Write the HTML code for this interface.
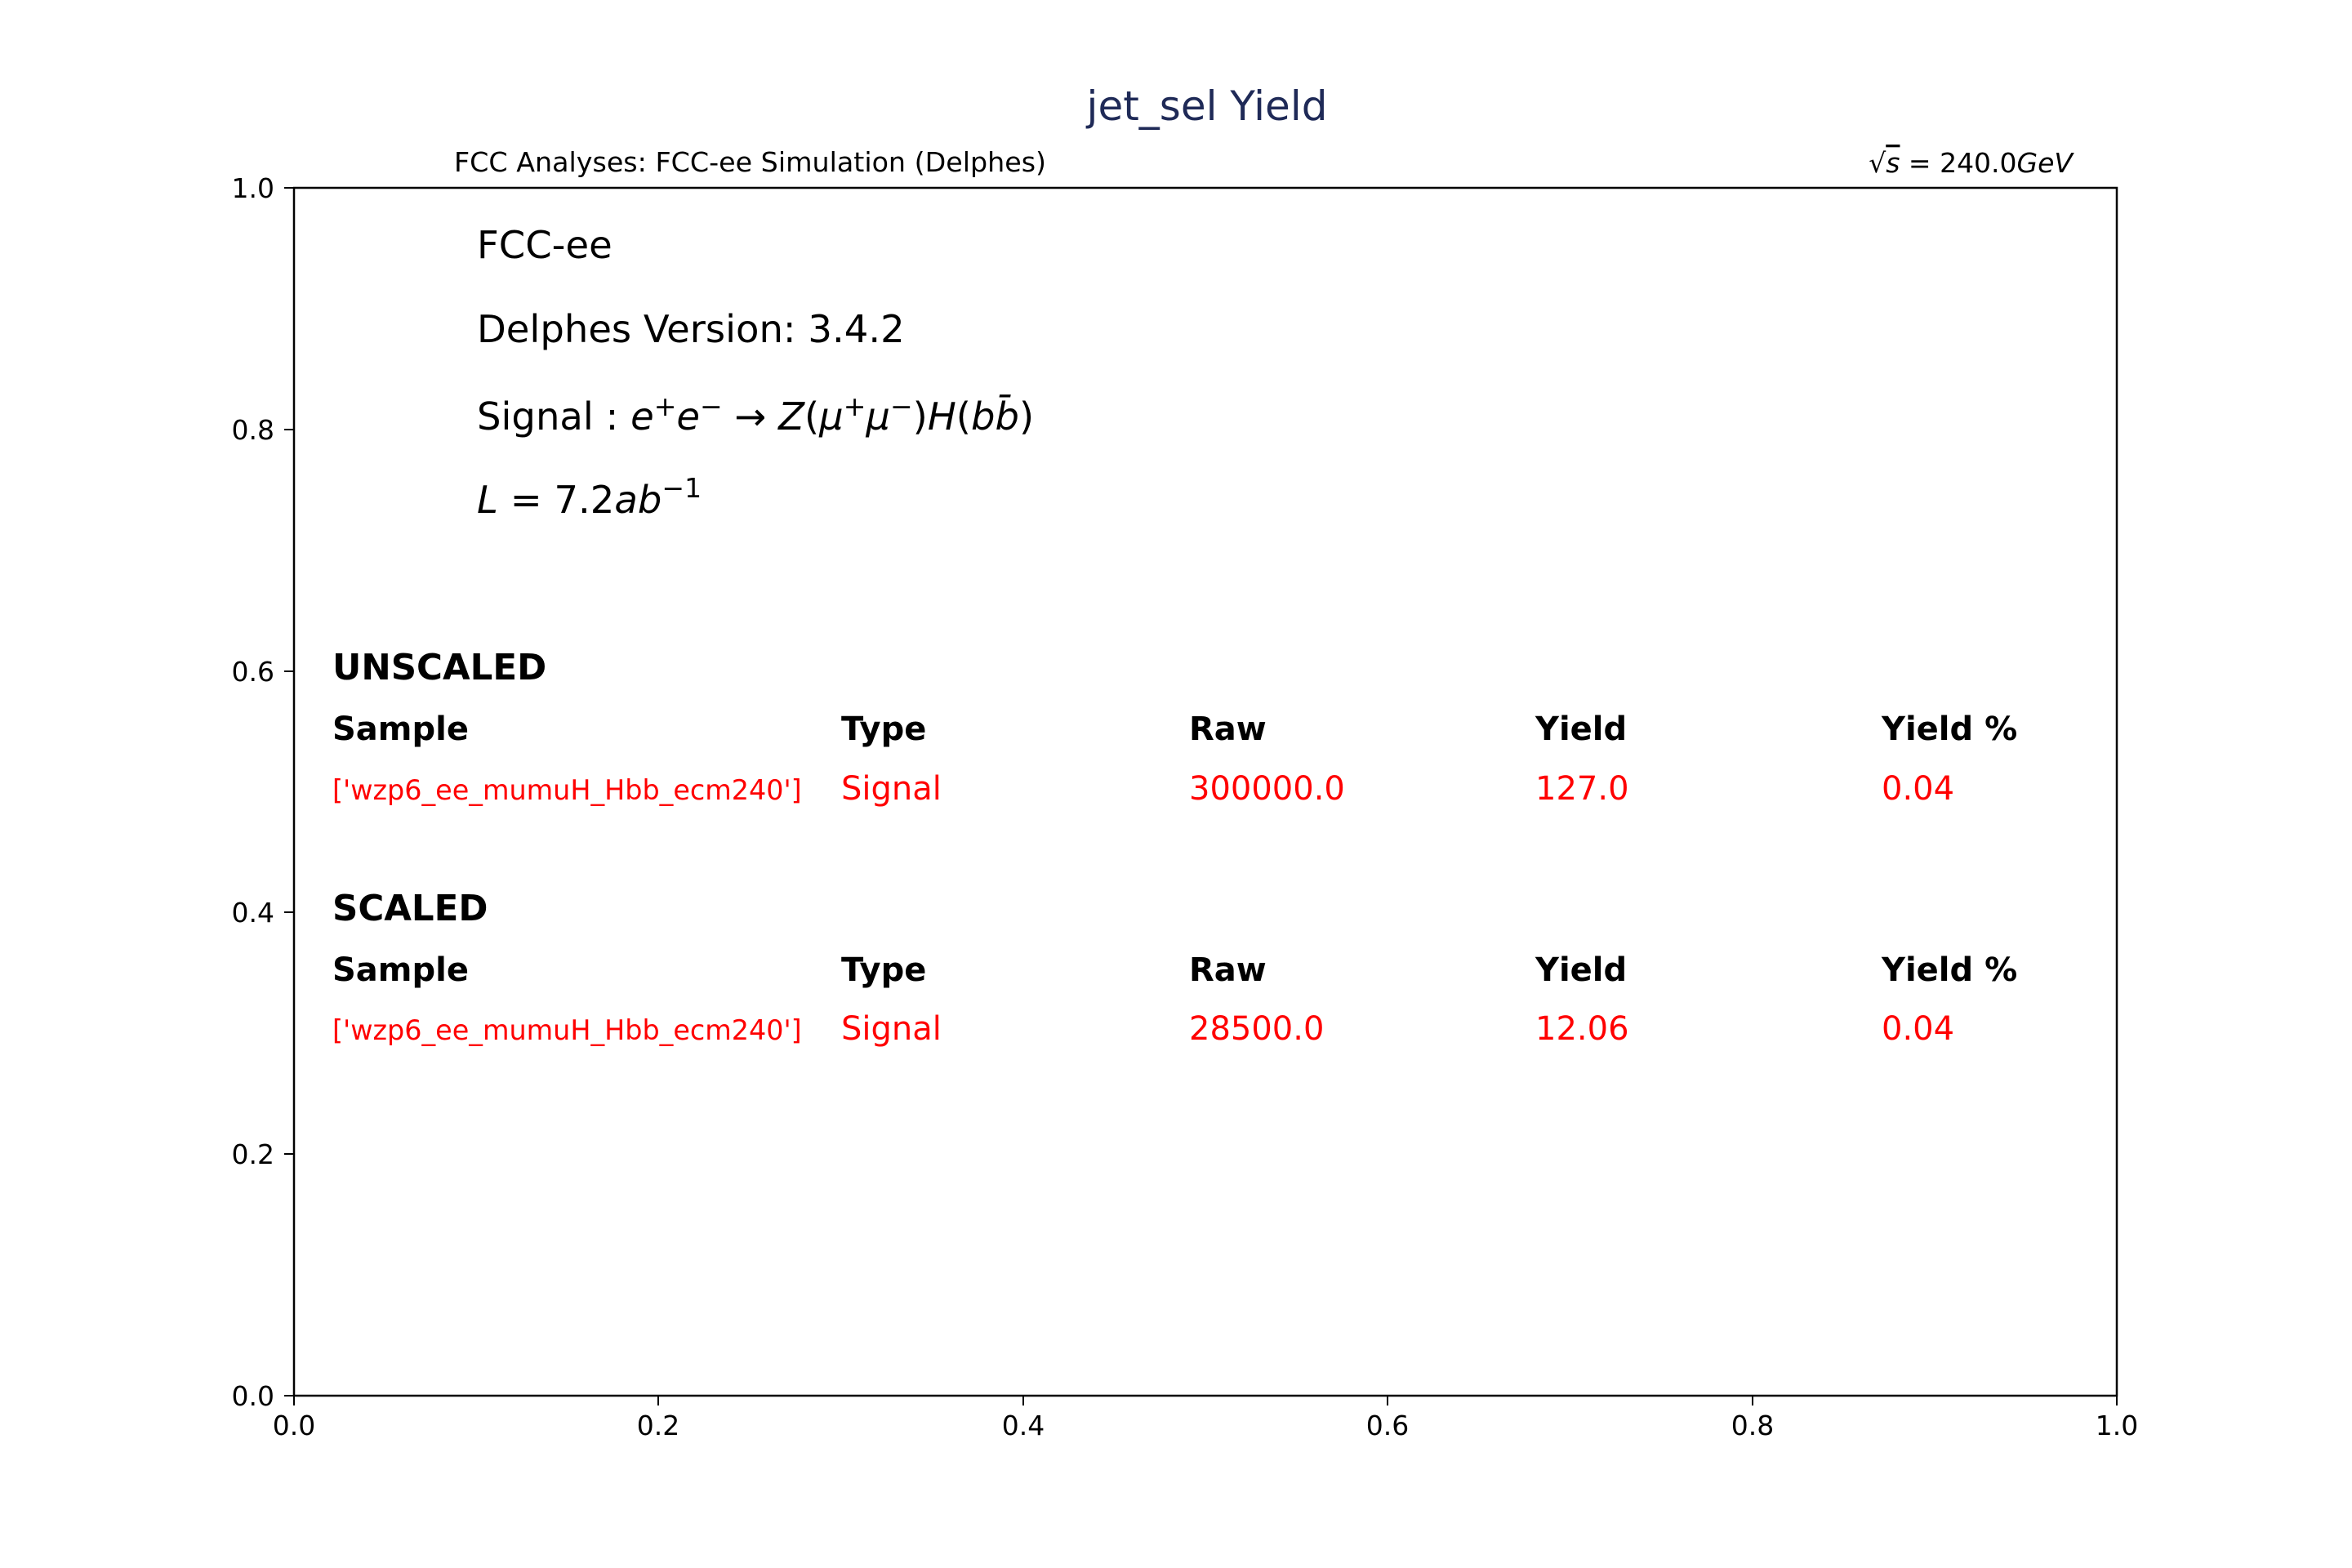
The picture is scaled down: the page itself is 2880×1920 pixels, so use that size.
<!DOCTYPE html>
<html><head><meta charset="utf-8"><style>
html,body{margin:0;padding:0;background:#fff;}
svg{display:block;font-family:"DejaVu Sans","Liberation Sans",sans-serif;}
</style></head><body>
<svg width="2880" height="1920" viewBox="0 0 2880 1920" xmlns="http://www.w3.org/2000/svg">
<rect width="2880" height="1920" fill="#fff"/>
<text x="1478" y="147" font-size="50" fill="#1f2a57" text-anchor="middle">jet_sel Yield</text>
<text x="556" y="210" font-size="33.3">FCC Analyses: FCC-ee Simulation (Delphes)</text>
<text x="2538" y="211" font-size="33" text-anchor="end">√<tspan font-style="italic" text-decoration="overline">s</tspan> = 240.0<tspan font-style="italic">GeV</tspan></text>
<rect x="360" y="230" width="2232" height="1479" fill="none" stroke="#000" stroke-width="2.5"/>
<g stroke="#000" stroke-width="2">
<line x1="348" y1="230" x2="360" y2="230"/><line x1="348" y1="526" x2="360" y2="526"/><line x1="348" y1="822" x2="360" y2="822"/><line x1="348" y1="1117" x2="360" y2="1117"/><line x1="348" y1="1413" x2="360" y2="1413"/><line x1="348" y1="1709" x2="360" y2="1709"/>
<line x1="360" y1="1709" x2="360" y2="1721"/><line x1="806" y1="1709" x2="806" y2="1721"/><line x1="1253" y1="1709" x2="1253" y2="1721"/><line x1="1699" y1="1709" x2="1699" y2="1721"/><line x1="2146" y1="1709" x2="2146" y2="1721"/><line x1="2592" y1="1709" x2="2592" y2="1721"/>
</g>
<g font-size="33" text-anchor="end">
<text x="336" y="242">1.0</text><text x="336" y="538">0.8</text><text x="336" y="834">0.6</text><text x="336" y="1129">0.4</text><text x="336" y="1425">0.2</text><text x="336" y="1721">0.0</text>
</g>
<g font-size="33" text-anchor="middle">
<text x="360" y="1757">0.0</text><text x="806" y="1757">0.2</text><text x="1253" y="1757">0.4</text><text x="1699" y="1757">0.6</text><text x="2146" y="1757">0.8</text><text x="2592" y="1757">1.0</text>
</g>
<g font-size="46.5">
<text x="584" y="316">FCC-ee</text>
<text x="584" y="419">Delphes Version: 3.4.2</text>
<text x="584" y="526">Signal : <tspan font-style="italic">e</tspan><tspan font-size="33" dy="-17">+</tspan><tspan font-style="italic" dy="17">e</tspan><tspan font-size="33" dy="-17">−</tspan><tspan dy="17"> → </tspan><tspan font-style="italic">Z</tspan>(<tspan font-style="italic">μ</tspan><tspan font-size="33" dy="-17">+</tspan><tspan font-style="italic" dy="17">μ</tspan><tspan font-size="33" dy="-17">−</tspan><tspan dy="17">)</tspan><tspan font-style="italic">H</tspan>(<tspan font-style="italic">b</tspan><tspan font-style="italic">b̄</tspan>)</text>
<text x="584" y="628"><tspan font-style="italic">L</tspan> = 7.2<tspan font-style="italic">ab</tspan><tspan font-size="33" dy="-19">−1</tspan></text>
</g>
<g font-size="40" font-weight="bold">
<text x="407" y="832" font-size="43.5">UNSCALED</text>
<text x="407" y="906">Sample</text><text x="1030" y="906">Type</text><text x="1456" y="906">Raw</text><text x="1880" y="906">Yield</text><text x="2304" y="906">Yield %</text>
<text x="407" y="1127" font-size="43.5">SCALED</text>
<text x="407" y="1201">Sample</text><text x="1030" y="1201">Type</text><text x="1456" y="1201">Raw</text><text x="1880" y="1201">Yield</text><text x="2304" y="1201">Yield %</text>
</g>
<g font-size="40" fill="#ff0000">
<text x="407" y="979" font-size="33.4">['wzp6_ee_mumuH_Hbb_ecm240']</text>
<text x="1030" y="979">Signal</text><text x="1456" y="979">300000.0</text><text x="1880" y="979">127.0</text><text x="2304" y="979">0.04</text>
<text x="407" y="1273" font-size="33.4">['wzp6_ee_mumuH_Hbb_ecm240']</text>
<text x="1030" y="1273">Signal</text><text x="1456" y="1273">28500.0</text><text x="1880" y="1273">12.06</text><text x="2304" y="1273">0.04</text>
</g>
</svg>
</body></html>
